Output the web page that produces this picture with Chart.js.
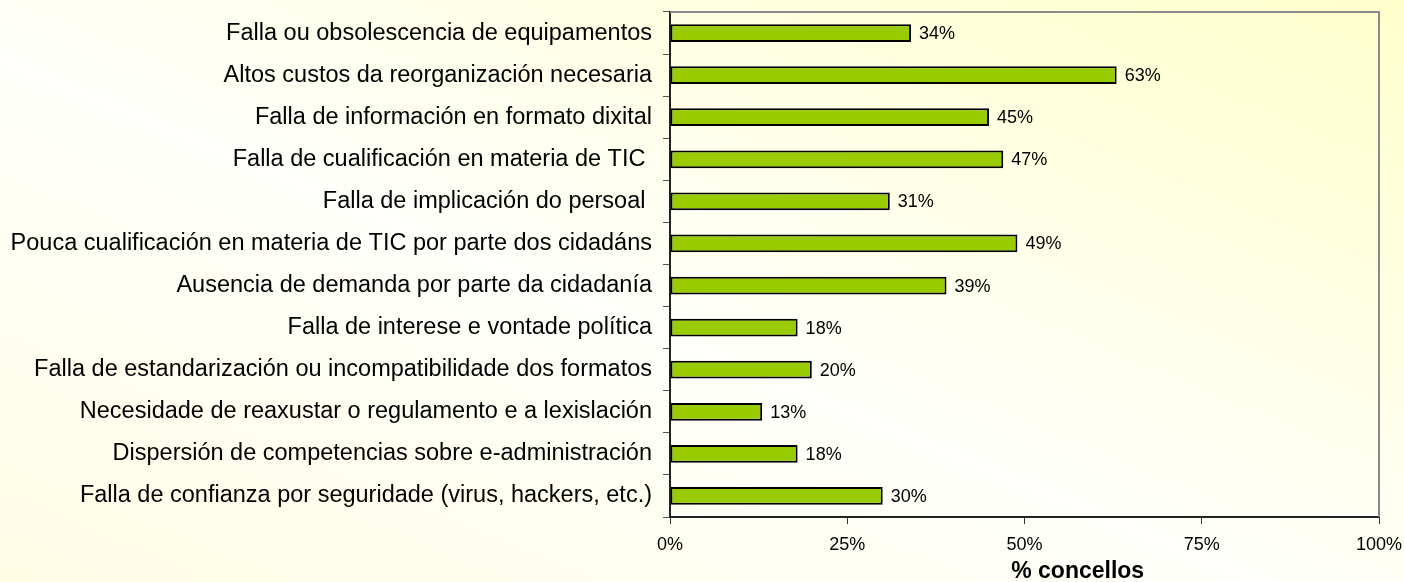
<!DOCTYPE html>
<html>
<head>
<meta charset="utf-8">
<script src="https://cdn.jsdelivr.net/npm/chart.js@4.4.0/dist/chart.umd.min.js"></script>
<style>
  html, body { margin: 0; padding: 0; }
  body {
    width: 1404px; height: 582px; overflow: hidden;
    background: linear-gradient(to top right, #fffde4 0%, #fffffb 45%, #ffffcc 100%);
  }
</style>
</head>
<body>
<canvas id="chart" width="1404" height="582"></canvas>
<script>
// Obstáculos para a e-administración, % de concellos
const CATEGORIES = [
  'Falla ou obsolescencia de equipamentos',
  'Altos custos da reorganización necesaria',
  'Falla de información en formato dixital',
  'Falla de cualificación en materia de TIC ',
  'Falla de implicación do persoal ',
  'Pouca cualificación en materia de TIC por parte dos cidadáns',
  'Ausencia de demanda por parte da cidadanía',
  'Falla de interese e vontade política',
  'Falla de estandarización ou incompatibilidade dos formatos',
  'Necesidade de reaxustar o regulamento e a lexislación',
  'Dispersión de competencias sobre e-administración',
  'Falla de confianza por seguridade (virus, hackers, etc.)',
];
const VALUES = [34, 63, 45, 47, 31, 49, 39, 18, 20, 13, 18, 30];
const X_TICKS = [0, 25, 50, 75, 100];
const X_TITLE = '% concellos';

const FONT = "'Liberation Sans', Arial, sans-serif";
const BAR_FILL = '#99cc00';

// drop the extra room Chart.js keeps for half of the edge labels
const noEdgePadding = s => {
  s.paddingTop = 0; s.paddingBottom = 0;
  s.paddingLeft = 0; s.paddingRight = 0;
};

// value labels to the right of each bar
const valueLabels = {
  id: 'valueLabels',
  afterDatasetsDraw(chart) {
    const { ctx } = chart;
    const meta = chart.getDatasetMeta(0);
    ctx.save();
    ctx.font = `18px ${FONT}`;
    ctx.fillStyle = '#000';
    ctx.textAlign = 'left';
    ctx.textBaseline = 'middle';
    meta.data.forEach((bar, i) => {
      ctx.fillText(VALUES[i] + '%', bar.x + 8, bar.y + 1);
    });
    ctx.restore();
  },
};

// grey frame on the top and right of the plot area, plus axis title
const plotFrame = {
  id: 'plotFrame',
  afterDraw(chart) {
    const { ctx, chartArea: a, scales } = chart;
    ctx.save();
    ctx.strokeStyle = '#8a8a8a';
    ctx.lineWidth = 2;
    ctx.beginPath();
    ctx.moveTo(a.left, a.top);
    ctx.lineTo(a.right, a.top);
    ctx.lineTo(a.right, a.bottom);
    ctx.stroke();

    ctx.font = `bold 23px ${FONT}`;
    ctx.fillStyle = '#000';
    ctx.textAlign = 'center';
    ctx.textBaseline = 'middle';
    ctx.fillText(X_TITLE, scales.x.getPixelForValue(57.5), a.bottom + 55);
    ctx.restore();
  },
};

new Chart(document.getElementById('chart'), {
  type: 'bar',
  data: {
    labels: CATEGORIES,
    datasets: [{
      data: VALUES,
      backgroundColor: BAR_FILL,
      borderColor: '#000',
      borderWidth: 2,
      borderSkipped: false,
      categoryPercentage: 1,
      barPercentage: 0.42,
    }],
  },
  options: {
    indexAxis: 'y',
    responsive: false,
    animation: false,
    layout: { padding: { top: 12, right: 25, left: 0, bottom: 0 } },
    plugins: {
      legend: { display: false },
      tooltip: { enabled: false },
    },
    scales: {
      x: {
        min: 0, max: 100,
        afterBuildTicks: s => { s.ticks = X_TICKS.map(v => ({ value: v })); },
        afterFit: s => { s.height = 65; noEdgePadding(s); },
        ticks: {
          color: '#000',
          font: { family: FONT, size: 18 },
          padding: 10,
          callback: v => v + '%',
        },
        grid: { drawOnChartArea: false, drawTicks: true, tickLength: 7, color: '#333' },
        border: { color: '#222', width: 2 },
      },
      y: {
        afterFit: s => { s.width = 670; noEdgePadding(s); },
        ticks: {
          color: '#000',
          font: { family: FONT, size: 23.5 },
          padding: 11,
        },
        grid: { offset: true, drawOnChartArea: false, drawTicks: true, tickLength: 7, color: '#555' },
        border: { color: '#222', width: 2 },
      },
    },
  },
  plugins: [valueLabels, plotFrame],
});
</script>
</body>
</html>
